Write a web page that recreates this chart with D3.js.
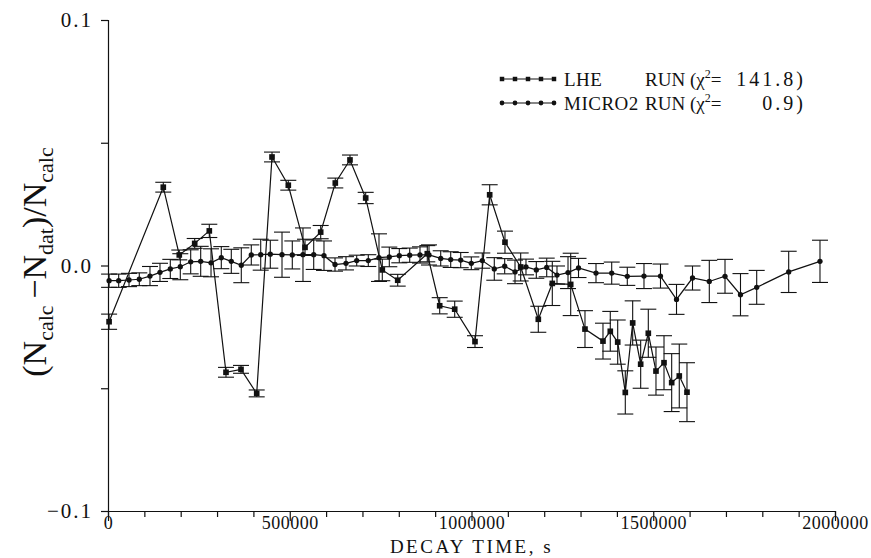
<!DOCTYPE html>
<html lang="en">
<head>
  <meta charset="UTF-8">
  <title>Decay time residuals</title>
  <script src="https://d3js.org/d3.v7.min.js"></script>
  <style>
    body { margin: 0; background: #fff; }
    .axis path, .axis line { fill: none; stroke: #111; stroke-width: 1.2; }
    .axis text { font-family: "Liberation Serif", "DejaVu Serif", serif; fill: #111; }
    .lbl { font-family: "Liberation Serif", "DejaVu Serif", serif; fill: #111; }
  </style>
</head>
<body>
<svg id="chart" width="871" height="558"></svg>
<script>
  // LHE run: decay time (s), residual, error
  const lheTime = [3000, 152100, 196100, 238500, 278700, 324600, 365900, 409100, 451200, 496000,
    542000, 585100, 625300, 665700, 708900, 754600, 797000, 878400, 912500, 953800,
    1009600, 1050000, 1092100, 1135300, 1183800, 1222300, 1272900, 1312200, 1361700, 1381800,
    1402200, 1423100, 1443400, 1465400, 1486400, 1507500, 1529600, 1550700, 1571600, 1592800];
  const lheValue = [-0.0229, 0.0319, 0.0043, 0.0090, 0.0141, -0.0435, -0.0423, -0.0521, 0.0442, 0.0327,
    0.0074, 0.0136, 0.0336, 0.0430, 0.0275, -0.0018, -0.0060, 0.0048, -0.0164, -0.0178,
    -0.0310, 0.0288, 0.0095, -0.0006, -0.0219, -0.0073, -0.0077, -0.0259, -0.0308, -0.0268,
    -0.0312, -0.0517, -0.0234, -0.0402, -0.0276, -0.0430, -0.0396, -0.0477, -0.0450, -0.0516];
  const lheError = [0.0031, 0.0020, 0.0020, 0.0020, 0.0027, 0.0020, 0.0016, 0.0014, 0.0020, 0.0020,
    0.0033, 0.0027, 0.0020, 0.0020, 0.0023, 0.0044, 0.0024, 0.0033, 0.0033, 0.0033,
    0.0024, 0.0041, 0.0045, 0.0057, 0.0053, 0.0090, 0.0127, 0.0075, 0.0073, 0.0081,
    0.0090, 0.0088, 0.0090, 0.0098, 0.0098, 0.0098, 0.0110, 0.0118, 0.0130, 0.0120];

  // MICRO2 run
  const microTime = [3000, 29400, 57800, 86100, 115500, 143000, 171400, 198900, 227500, 255000,
    283400, 311700, 339200, 366700, 394200, 420100, 446500, 478700, 507000, 536400,
    565900, 594200, 624500, 654700, 684200, 716100, 745500, 773900, 801400, 830000,
    858300, 883100, 915300, 942800, 970300, 999500, 1029700, 1062700, 1091300, 1119700,
    1149900, 1178300, 1206900, 1235200, 1265500, 1294400, 1342500, 1385700, 1428600, 1474500,
    1519900, 1564000, 1608000, 1654200, 1697400, 1740000, 1784600, 1872600, 1958700];
  const microValue = [-0.0062, -0.0062, -0.0059, -0.0056, -0.0043, -0.0028, -0.0014, -0.0005, 0.0015, 0.0017,
    0.0011, 0.0032, 0.0017, 0.0001, 0.0043, 0.0044, 0.0046, 0.0044, 0.0043, 0.0044,
    0.0044, 0.0040, 0.0004, 0.0009, 0.0020, 0.0020, 0.0032, 0.0035, 0.0040, 0.0042,
    0.0043, 0.0043, 0.0029, 0.0024, 0.0022, 0.0009, 0.0020, -0.0014, -0.0003, -0.0026,
    -0.0006, -0.0018, -0.0008, -0.0039, -0.0029, -0.0010, -0.0031, -0.0031, -0.0044, -0.0043,
    -0.0043, -0.0138, -0.0051, -0.0065, -0.0044, -0.0119, -0.0089, -0.0026, 0.0017];
  const microError = [0.0027, 0.0027, 0.0027, 0.0026, 0.0039, 0.0037, 0.0039, 0.0053, 0.0049, 0.0061,
    0.0057, 0.0045, 0.0049, 0.0071, 0.0041, 0.0063, 0.0057, 0.0092, 0.0057, 0.0109,
    0.0060, 0.0060, 0.0027, 0.0027, 0.0022, 0.0024, 0.0097, 0.0040, 0.0029, 0.0029,
    0.0033, 0.0041, 0.0031, 0.0032, 0.0031, 0.0026, 0.0031, 0.0046, 0.0031, 0.0048,
    0.0032, 0.0034, 0.0038, 0.0037, 0.0065, 0.0039, 0.0039, 0.0045, 0.0037, 0.0051,
    0.0049, 0.0061, 0.0049, 0.0086, 0.0069, 0.0086, 0.0069, 0.0084, 0.0086];

  const xTicks = d3.range(0, 2000001, 100000);
  const xLabelTicks = [0, 500000, 1000000, 1500000, 2000000];
  const yTicks = [-0.1, -0.05, 0, 0.05, 0.1];
  const yLabelTicks = [-0.1, 0, 0.1];
  const legendNames = ["LHE", "MICRO2"];
  const legendChi = ["141.8", "0.9"];

  const svg = d3.select("#chart");

  const x = d3.scaleLinear().domain([0, 2000000]).range([108, 835]);
  const y = d3.scaleLinear().domain([-0.1, 0.1]).range([511, 20]);

  // x axis, long ticks on the labelled values
  svg.append("g")
    .attr("class", "axis")
    .attr("transform", "translate(0," + y(-0.1) + ")")
    .call(d3.axisBottom(x).tickValues(xTicks).tickSizeOuter(0).tickSize(6).tickFormat(""))
    .call(g => g.selectAll(".tick line")
      .attr("y2", d => xLabelTicks.includes(d) ? 10 : 6));

  svg.append("g")
    .attr("class", "axis")
    .attr("transform", "translate(0," + y(-0.1) + ")")
    .call(d3.axisBottom(x).tickValues(xLabelTicks).tickSize(0).tickFormat(d3.format("d")))
    .call(g => g.select(".domain").remove())
    .call(g => g.selectAll("text").attr("font-size", 18).attr("letter-spacing", 0.5)
      .attr("y", 18).attr("dy", 0));

  svg.append("g")
    .attr("class", "axis")
    .attr("transform", "translate(" + x(0) + ",0)")
    .call(d3.axisLeft(y).tickValues(yTicks).tickSizeOuter(0).tickSize(7)
      .tickFormat(d => yLabelTicks.includes(d) ? (d < 0 ? "\u22120.1" : d3.format(".1f")(d)) : ""))
    .call(g => g.selectAll("text").attr("font-size", 21).attr("letter-spacing", 2).attr("x", -15));

  svg.append("text")
    .attr("class", "lbl")
    .attr("x", x(1000000))
    .attr("y", 553)
    .attr("text-anchor", "middle")
    .attr("font-size", 19)
    .attr("letter-spacing", 2.5)
    .text("DECAY TIME, s");

  // y axis title with subscripts
  const yt = svg.append("text")
    .attr("class", "lbl")
    .attr("transform", "translate(46,262) rotate(-90)")
    .attr("text-anchor", "middle")
    .attr("font-size", 34);
  yt.append("tspan").text("(N");
  yt.append("tspan").attr("font-size", 22).attr("dy", 7).text("calc");
  yt.append("tspan").attr("dy", -7).text("\u2009\u2212N");
  yt.append("tspan").attr("font-size", 22).attr("dy", 7).text("dat");
  yt.append("tspan").attr("dy", -7).text(")/N");
  yt.append("tspan").attr("font-size", 22).attr("dy", 7).text("calc");

  function drawSeries(times, values, errors, shape) {
    const pts = times.map((t, i) => ({t: t, v: values[i], e: errors[i]}));
    const g = svg.append("g");

    g.append("path")
      .datum(pts)
      .attr("fill", "none")
      .attr("stroke", "#111")
      .attr("stroke-width", 1.2)
      .attr("d", d3.line().x(d => x(d.t)).y(d => y(d.v)));

    const eb = g.selectAll(".eb").data(pts).enter().append("g")
      .attr("stroke", "#111").attr("stroke-width", 1.1);
    eb.append("line")
      .attr("x1", d => x(d.t)).attr("x2", d => x(d.t))
      .attr("y1", d => y(d.v - d.e)).attr("y2", d => y(d.v + d.e));
    eb.append("line")
      .attr("x1", d => x(d.t) - 8).attr("x2", d => x(d.t) + 8)
      .attr("y1", d => y(d.v + d.e)).attr("y2", d => y(d.v + d.e));
    eb.append("line")
      .attr("x1", d => x(d.t) - 8).attr("x2", d => x(d.t) + 8)
      .attr("y1", d => y(d.v - d.e)).attr("y2", d => y(d.v - d.e));

    const sym = d3.symbol().type(shape === "square" ? d3.symbolSquare : d3.symbolCircle)
      .size(shape === "square" ? 32 : 22);
    g.selectAll(".pt").data(pts).enter().append("path")
      .attr("transform", d => "translate(" + x(d.t) + "," + y(d.v) + ")")
      .attr("d", sym)
      .attr("fill", "#111");
  }

  drawSeries(microTime, microValue, microError, "circle");
  drawSeries(lheTime, lheValue, lheError, "square");

  // legend
  const legendRows = [
    {name: legendNames[0], chi: legendChi[0], shape: "square", y: 79},
    {name: legendNames[1], chi: legendChi[1], shape: "circle", y: 103}
  ];
  const lx = d3.scaleLinear().domain([0, 4]).range([502, 554]);
  legendRows.forEach(r => {
    const g = svg.append("g");
    g.append("line").attr("x1", lx(0)).attr("x2", lx(4)).attr("y1", r.y).attr("y2", r.y)
      .attr("stroke", "#111").attr("stroke-width", 1.2);
    const sym = d3.symbol().type(r.shape === "square" ? d3.symbolSquare : d3.symbolCircle)
      .size(r.shape === "square" ? 20 : 18);
    g.selectAll("path").data(d3.range(5)).enter().append("path")
      .attr("transform", i => "translate(" + lx(i) + "," + r.y + ")")
      .attr("d", sym).attr("fill", "#111");
    g.append("text").attr("class", "lbl").attr("x", 564).attr("y", r.y + 7)
      .attr("font-size", 19).attr("letter-spacing", 0.5).text(r.name);
    g.append("text").attr("class", "lbl").attr("x", 645).attr("y", r.y + 7)
      .attr("font-size", 19).text("RUN");
    const c = g.append("text").attr("class", "lbl").attr("x", 690).attr("y", r.y + 7)
      .attr("font-size", 19);
    c.append("tspan").text("(\u03c7");
    c.append("tspan").attr("font-size", 12).attr("dy", -8).text("2");
    c.append("tspan").attr("dy", 8).text("=");
    g.append("text").attr("class", "lbl").attr("x", 806).attr("y", r.y + 7)
      .attr("text-anchor", "end").attr("font-size", 20).attr("letter-spacing", 3)
      .text(r.chi + ")");
  });
</script>
</body>
</html>
